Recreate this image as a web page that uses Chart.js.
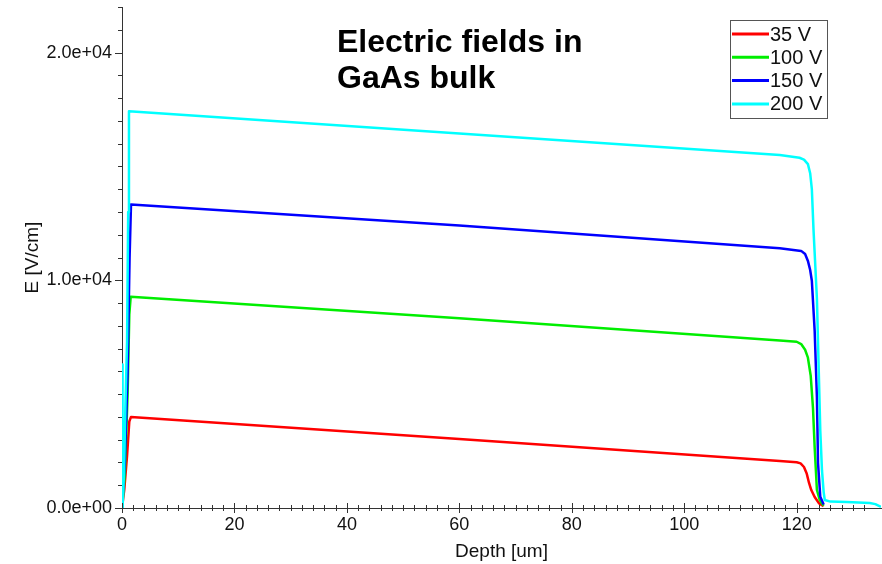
<!DOCTYPE html>
<html>
<head>
<meta charset="utf-8">
<title>Electric fields in GaAs bulk</title>
<script src="https://cdn.jsdelivr.net/npm/chart.js@4.4.1/dist/chart.umd.min.js"></script>
<style>
  html, body { margin: 0; padding: 0; background: #fff; }
  #wrap { width: 882px; height: 564px; }
</style>
</head>
<body>
<div id="wrap"><canvas id="fieldChart" width="882" height="564"></canvas></div>
<script>
// Depth [um] / field [V/cm] per bias voltage
const depth35 = [0, 0.4, 0.9, 1.3, 1.6, 60, 117, 120, 120.7, 121.3, 121.8, 122.2, 122.6, 123.2, 124, 124.8];
const field35 = [0, 800, 2300, 3800, 4000, 3030, 2060, 2010, 1960, 1800, 1500, 1100, 790, 480, 200, 80];

const depth100 = [0, 0.5, 1.0, 1.3, 1.55, 60, 117, 120, 120.8, 121.5, 122, 122.5, 122.9, 123.2, 123.6, 124.1, 124.8];
const field100 = [0, 1500, 5000, 8500, 9280, 8330, 7350, 7300, 7200, 6950, 6600, 5800, 4400, 2670, 790, 350, 100];

const depth150 = [0, 0.5, 1.0, 1.35, 1.6, 60, 117, 120.8, 121.5, 122, 122.4, 122.7, 123.2, 123.6, 123.8, 124.2, 124.8];
const field150 = [0, 2000, 6000, 11000, 13330, 12400, 11410, 11290, 11150, 10850, 10450, 9980, 7790, 4860, 1970, 500, 150];

const depth200 = [0, 0.1, 0.35, 0.6, 0.9, 1.1, 1.24, 60, 117, 120.5, 121.3, 122.0, 122.4, 122.7, 123.0, 123.6, 123.9, 124.2, 124.5, 124.8, 125.0, 126, 128.9, 133, 134, 135];
const field200 = [6300, 0, 1500, 4400, 7300, 13000, 17420, 16440, 15500, 15380, 15300, 15100, 14700, 14000, 12200, 9200, 6300, 3400, 1660, 700, 350, 280, 260, 220, 170, 50];

const seriesLabels = ['35 V', '100 V', '150 V', '200 V'];
const seriesColors = ['#ff0000', '#00ee00', '#0000ff', '#00ffff'];

const xTickValues = [0, 20, 40, 60, 80, 100, 120];
const yTickValues = [0, 10000, 20000];
const yTickLabels = ['0.0e+00', '1.0e+04', '2.0e+04'];

const titleLines = ['Electric fields in', 'GaAs bulk'];

function toPoints(xs, ys) {
    return xs.map((x, i) => ({ x: x, y: ys[i] }));
}

const allDepths = [depth35, depth100, depth150, depth200];
const allFields = [field35, field100, field150, field200];

const datasets = seriesLabels.map((label, i) => ({
    label: label,
    data: toPoints(allDepths[i], allFields[i]),
    borderColor: seriesColors[i],
    backgroundColor: seriesColors[i],
    borderWidth: 2.5,
    borderJoinStyle: 'round',
    pointRadius: 0,
    tension: 0,
    fill: false,
    order: seriesLabels.length - i
}));

const FONT = 'Liberation Sans, Arial, sans-serif';

// drop the label padding chart.js adds around the axes
function noPadding(s) {
    s.paddingTop = 0;
    s.paddingBottom = 0;
    s.paddingLeft = 0;
    s.paddingRight = 0;
}

// small + large tick marks on both axes
const tickMarks = {
    id: 'tickMarks',
    afterDraw(chart) {
        const ctx = chart.ctx;
        const xs = chart.scales.x;
        const ys = chart.scales.y;
        const area = chart.chartArea;
        ctx.save();
        ctx.strokeStyle = '#333';
        ctx.lineWidth = 1;
        ctx.beginPath();
        xs.ticks.forEach(t => {
            if (Math.abs(t.value / 2 - Math.round(t.value / 2)) > 1e-6) return;
            const px = Math.round(xs.getPixelForValue(t.value)) + 0.5;
            const len = xTickValues.includes(t.value) ? 5 : 3;
            ctx.moveTo(px, area.bottom - len);
            ctx.lineTo(px, area.bottom + len);
        });
        ys.ticks.forEach(t => {
            if (Math.abs(t.value % 1000) > 1e-6) return;
            const py = Math.round(ys.getPixelForValue(t.value)) + 0.5;
            const len = yTickValues.includes(t.value) ? 7 : 4;
            ctx.moveTo(area.left - len, py);
            ctx.lineTo(area.left, py);
        });
        ctx.stroke();
        ctx.restore();
    }
};

// title text and boxed legend inside the plot
const overlay = {
    id: 'overlay',
    afterDraw(chart) {
        const ctx = chart.ctx;
        ctx.save();
        ctx.fillStyle = '#000';
        ctx.font = 'bold 32px ' + FONT;
        ctx.textAlign = 'left';
        ctx.textBaseline = 'middle';
        titleLines.forEach((line, i) => ctx.fillText(line, 337, 43 + i * 36));

        const box = { left: 730.5, top: 20.5, width: 97, height: 98 };
        ctx.fillStyle = '#fff';
        ctx.fillRect(box.left, box.top, box.width, box.height);
        ctx.strokeStyle = '#555';
        ctx.lineWidth = 1;
        ctx.strokeRect(box.left, box.top, box.width, box.height);

        ctx.font = '20px ' + FONT;
        chart.data.datasets.forEach((ds, i) => {
            const y = 34 + i * 23.3;
            ctx.strokeStyle = ds.borderColor;
            ctx.lineWidth = 3;
            ctx.beginPath();
            ctx.moveTo(732, y);
            ctx.lineTo(769, y);
            ctx.stroke();
            ctx.fillStyle = '#111';
            ctx.fillText(ds.label, 770, y + 1);
        });
        ctx.restore();
    }
};

new Chart(document.getElementById('fieldChart'), {
    type: 'line',
    data: { datasets: datasets },
    options: {
        responsive: false,
        animation: false,
        devicePixelRatio: 1,
        layout: { autoPadding: false, padding: { top: 7, right: 1, bottom: 0, left: 0 } },
        plugins: {
            legend: { display: false },
            tooltip: { enabled: false }
        },
        scales: {
            x: {
                type: 'linear',
                min: 0,
                max: 135,
                afterFit: s => { s.height = 56; noPadding(s); },
                grid: { display: false, drawTicks: false },
                border: { display: true, color: '#333', width: 1 },
                ticks: {
                    stepSize: 2,
                    autoSkip: false,
                    maxRotation: 0,
                    padding: 6,
                    color: '#111',
                    font: { family: FONT, size: 18 },
                    callback: v => xTickValues.includes(v) ? String(v) : ''
                },
                title: {
                    display: true,
                    text: 'Depth [um]',
                    color: '#111',
                    font: { family: FONT, size: 19 },
                    padding: { top: 0, bottom: 1 }
                }
            },
            y: {
                type: 'linear',
                min: 0,
                max: 22000,
                afterFit: s => { s.width = 122; noPadding(s); },
                grid: { display: false, drawTicks: false },
                border: { display: true, color: '#333', width: 1 },
                ticks: {
                    stepSize: 1000,
                    autoSkip: false,
                    padding: 10,
                    color: '#111',
                    font: { family: FONT, size: 18 },
                    callback: v => {
                        const k = yTickValues.indexOf(v);
                        return k >= 0 ? yTickLabels[k] : '';
                    }
                },
                title: {
                    display: true,
                    text: 'E [V/cm]',
                    color: '#111',
                    font: { family: FONT, size: 19 },
                    padding: { top: 21, bottom: 0 }
                }
            }
        }
    },
    plugins: [tickMarks, overlay]
});
</script>
</body>
</html>
